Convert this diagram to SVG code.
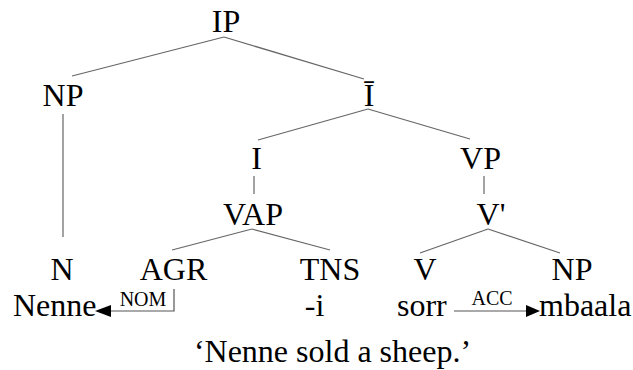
<svg xmlns="http://www.w3.org/2000/svg" width="633" height="370" viewBox="0 0 633 370">
<style>
text { font-family: "Liberation Serif", "Times New Roman", "DejaVu Serif", serif; fill: #000; }
.lbl { font-size: 32px; text-anchor: middle; }
.word { font-size: 32px; }
.case { font-size: 20px; text-anchor: middle; }
.edge { stroke: #666; stroke-width: 1.2; fill: none; }
.arr { stroke: #555; stroke-width: 1.2; fill: none; }
.head { fill: #000; stroke: none; }
</style>
<rect width="633" height="370" fill="#fff"/>
<g id="connectors">
<line class="edge" x1="224" y1="37" x2="72" y2="76"/>
<line class="edge" x1="224" y1="37" x2="364" y2="79"/>
<line class="edge" x1="63" y1="114" x2="63" y2="237"/>
<line class="edge" x1="368" y1="109" x2="258" y2="140"/>
<line class="edge" x1="368" y1="109" x2="470" y2="139"/>
<line class="edge" x1="254" y1="176" x2="254" y2="194"/>
<line class="edge" x1="484" y1="176" x2="484" y2="194"/>
<line class="edge" x1="252" y1="229" x2="172" y2="250"/>
<line class="edge" x1="252" y1="229" x2="330" y2="250"/>
<line class="edge" x1="488" y1="229" x2="420" y2="253"/>
<line class="edge" x1="488" y1="229" x2="560" y2="253"/>
<path class="arr" d="M174,289 L174,311 L108,311"/>
<polygon class="head" points="95,311 111,305 111,317"/>
<path class="arr" d="M454,311 L528,311"/>
<polygon class="head" points="540,311 526,305 526,317"/>
</g>
<g id="node-IP"><text class="lbl" x="226" y="32">IP</text></g>
<g id="node-NP1"><text class="lbl" x="63" y="106">NP</text></g>
<g id="node-Ibar"><text class="lbl" x="369" y="106">Ī</text></g>
<g id="node-I"><text class="lbl" x="256.5" y="169">I</text></g>
<g id="node-VP"><text class="lbl" x="480.5" y="169">VP</text></g>
<g id="node-VAP"><text class="lbl" x="253" y="225">VAP</text></g>
<g id="node-Vbar"><text class="lbl" x="491" y="225">V'</text></g>
<g id="node-N"><text class="lbl" x="62" y="280">N</text></g>
<g id="node-AGR"><text class="lbl" x="173.5" y="280">AGR</text></g>
<g id="node-TNS"><text class="lbl" x="330" y="280">TNS</text></g>
<g id="node-V"><text class="lbl" x="425" y="280">V</text></g>
<g id="node-NP2"><text class="lbl" x="572" y="280">NP</text></g>
<g id="word-Nenne"><text class="word" x="13" y="316">Nenne</text></g>
<g id="word-i"><text class="lbl" x="314.5" y="316">-i</text></g>
<g id="word-sorr"><text class="word" x="397" y="316">sorr</text></g>
<g id="word-mbaala"><text class="word" x="539" y="316">mbaala</text></g>
<g id="label-NOM"><text class="case" x="143" y="306">NOM</text></g>
<g id="label-ACC"><text class="case" x="492" y="305">ACC</text></g>
<g id="caption"><text class="lbl" x="332.5" y="362">‘Nenne sold a sheep.’</text></g>
</svg>
